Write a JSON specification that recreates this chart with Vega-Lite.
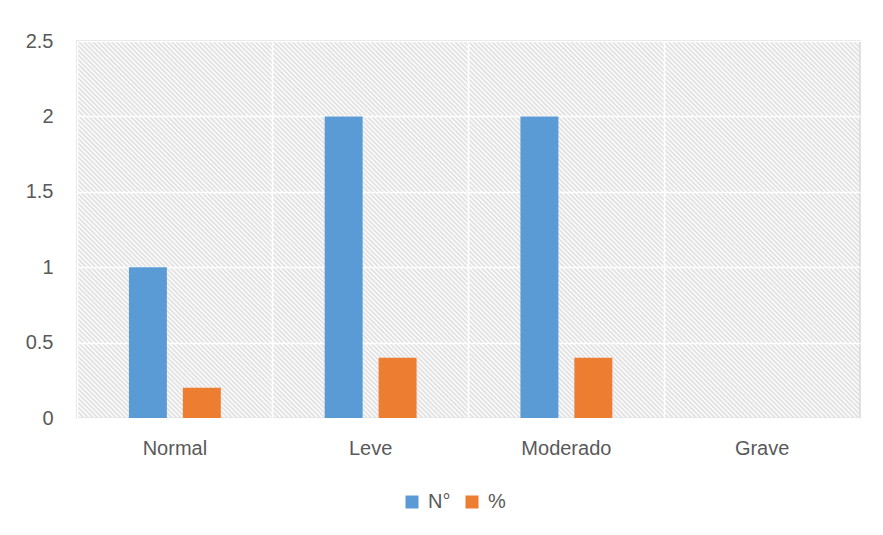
{
  "$schema": "https://vega.github.io/schema/vega-lite/v6.json",
  "width": 783,
  "height": 377,
  "autosize": "none",
  "padding": {"left": 77, "top": 41, "right": 23, "bottom": 117},
  "background": "white",
  "config": {
    "font": "Liberation Sans",
    "view": {
      "stroke": "#d9d9d9",
      "strokeWidth": 1.5,
      "fill": {
        "gradient": "linear",
        "x1": 0, "y1": 1, "x2": 1.2027, "y2": 0.4209,
        "stops": [
{"offset":0,"color":"#fff"},{"offset":0.002,"color":"#dcdcdc"},{"offset":0.004,"color":"#fff"},{"offset":0.006,"color":"#dcdcdc"},{"offset":0.008,"color":"#fff"},{"offset":0.01,"color":"#dcdcdc"},{"offset":0.012,"color":"#fff"},{"offset":0.014,"color":"#dcdcdc"},{"offset":0.016,"color":"#fff"},{"offset":0.018,"color":"#dcdcdc"},
{"offset":0.02,"color":"#fff"},{"offset":0.022,"color":"#dcdcdc"},{"offset":0.024,"color":"#fff"},{"offset":0.026,"color":"#dcdcdc"},{"offset":0.028,"color":"#fff"},{"offset":0.03,"color":"#dcdcdc"},{"offset":0.032,"color":"#fff"},{"offset":0.034,"color":"#dcdcdc"},{"offset":0.036,"color":"#fff"},{"offset":0.038,"color":"#dcdcdc"},
{"offset":0.04,"color":"#fff"},{"offset":0.042,"color":"#dcdcdc"},{"offset":0.044,"color":"#fff"},{"offset":0.046,"color":"#dcdcdc"},{"offset":0.048,"color":"#fff"},{"offset":0.05,"color":"#dcdcdc"},{"offset":0.052,"color":"#fff"},{"offset":0.054,"color":"#dcdcdc"},{"offset":0.056,"color":"#fff"},{"offset":0.058,"color":"#dcdcdc"},
{"offset":0.06,"color":"#fff"},{"offset":0.062,"color":"#dcdcdc"},{"offset":0.064,"color":"#fff"},{"offset":0.066,"color":"#dcdcdc"},{"offset":0.068,"color":"#fff"},{"offset":0.07,"color":"#dcdcdc"},{"offset":0.072,"color":"#fff"},{"offset":0.074,"color":"#dcdcdc"},{"offset":0.076,"color":"#fff"},{"offset":0.078,"color":"#dcdcdc"},
{"offset":0.08,"color":"#fff"},{"offset":0.082,"color":"#dcdcdc"},{"offset":0.084,"color":"#fff"},{"offset":0.086,"color":"#dcdcdc"},{"offset":0.088,"color":"#fff"},{"offset":0.09,"color":"#dcdcdc"},{"offset":0.092,"color":"#fff"},{"offset":0.094,"color":"#dcdcdc"},{"offset":0.096,"color":"#fff"},{"offset":0.098,"color":"#dcdcdc"},
{"offset":0.1,"color":"#fff"},{"offset":0.102,"color":"#dcdcdc"},{"offset":0.104,"color":"#fff"},{"offset":0.106,"color":"#dcdcdc"},{"offset":0.108,"color":"#fff"},{"offset":0.11,"color":"#dcdcdc"},{"offset":0.112,"color":"#fff"},{"offset":0.114,"color":"#dcdcdc"},{"offset":0.116,"color":"#fff"},{"offset":0.118,"color":"#dcdcdc"},
{"offset":0.12,"color":"#fff"},{"offset":0.122,"color":"#dcdcdc"},{"offset":0.124,"color":"#fff"},{"offset":0.126,"color":"#dcdcdc"},{"offset":0.128,"color":"#fff"},{"offset":0.13,"color":"#dcdcdc"},{"offset":0.132,"color":"#fff"},{"offset":0.134,"color":"#dcdcdc"},{"offset":0.136,"color":"#fff"},{"offset":0.138,"color":"#dcdcdc"},
{"offset":0.14,"color":"#fff"},{"offset":0.142,"color":"#dcdcdc"},{"offset":0.144,"color":"#fff"},{"offset":0.146,"color":"#dcdcdc"},{"offset":0.148,"color":"#fff"},{"offset":0.15,"color":"#dcdcdc"},{"offset":0.152,"color":"#fff"},{"offset":0.154,"color":"#dcdcdc"},{"offset":0.156,"color":"#fff"},{"offset":0.158,"color":"#dcdcdc"},
{"offset":0.16,"color":"#fff"},{"offset":0.162,"color":"#dcdcdc"},{"offset":0.164,"color":"#fff"},{"offset":0.166,"color":"#dcdcdc"},{"offset":0.168,"color":"#fff"},{"offset":0.17,"color":"#dcdcdc"},{"offset":0.172,"color":"#fff"},{"offset":0.174,"color":"#dcdcdc"},{"offset":0.176,"color":"#fff"},{"offset":0.178,"color":"#dcdcdc"},
{"offset":0.18,"color":"#fff"},{"offset":0.182,"color":"#dcdcdc"},{"offset":0.184,"color":"#fff"},{"offset":0.186,"color":"#dcdcdc"},{"offset":0.188,"color":"#fff"},{"offset":0.19,"color":"#dcdcdc"},{"offset":0.192,"color":"#fff"},{"offset":0.194,"color":"#dcdcdc"},{"offset":0.196,"color":"#fff"},{"offset":0.198,"color":"#dcdcdc"},
{"offset":0.2,"color":"#fff"},{"offset":0.202,"color":"#dcdcdc"},{"offset":0.204,"color":"#fff"},{"offset":0.206,"color":"#dcdcdc"},{"offset":0.208,"color":"#fff"},{"offset":0.21,"color":"#dcdcdc"},{"offset":0.212,"color":"#fff"},{"offset":0.214,"color":"#dcdcdc"},{"offset":0.216,"color":"#fff"},{"offset":0.218,"color":"#dcdcdc"},
{"offset":0.22,"color":"#fff"},{"offset":0.222,"color":"#dcdcdc"},{"offset":0.224,"color":"#fff"},{"offset":0.226,"color":"#dcdcdc"},{"offset":0.228,"color":"#fff"},{"offset":0.23,"color":"#dcdcdc"},{"offset":0.232,"color":"#fff"},{"offset":0.234,"color":"#dcdcdc"},{"offset":0.236,"color":"#fff"},{"offset":0.238,"color":"#dcdcdc"},
{"offset":0.24,"color":"#fff"},{"offset":0.242,"color":"#dcdcdc"},{"offset":0.244,"color":"#fff"},{"offset":0.246,"color":"#dcdcdc"},{"offset":0.248,"color":"#fff"},{"offset":0.25,"color":"#dcdcdc"},{"offset":0.252,"color":"#fff"},{"offset":0.254,"color":"#dcdcdc"},{"offset":0.256,"color":"#fff"},{"offset":0.258,"color":"#dcdcdc"},
{"offset":0.26,"color":"#fff"},{"offset":0.262,"color":"#dcdcdc"},{"offset":0.264,"color":"#fff"},{"offset":0.266,"color":"#dcdcdc"},{"offset":0.268,"color":"#fff"},{"offset":0.27,"color":"#dcdcdc"},{"offset":0.272,"color":"#fff"},{"offset":0.274,"color":"#dcdcdc"},{"offset":0.276,"color":"#fff"},{"offset":0.278,"color":"#dcdcdc"},
{"offset":0.28,"color":"#fff"},{"offset":0.282,"color":"#dcdcdc"},{"offset":0.284,"color":"#fff"},{"offset":0.286,"color":"#dcdcdc"},{"offset":0.288,"color":"#fff"},{"offset":0.29,"color":"#dcdcdc"},{"offset":0.292,"color":"#fff"},{"offset":0.294,"color":"#dcdcdc"},{"offset":0.296,"color":"#fff"},{"offset":0.298,"color":"#dcdcdc"},
{"offset":0.3,"color":"#fff"},{"offset":0.302,"color":"#dcdcdc"},{"offset":0.304,"color":"#fff"},{"offset":0.306,"color":"#dcdcdc"},{"offset":0.308,"color":"#fff"},{"offset":0.31,"color":"#dcdcdc"},{"offset":0.312,"color":"#fff"},{"offset":0.314,"color":"#dcdcdc"},{"offset":0.316,"color":"#fff"},{"offset":0.318,"color":"#dcdcdc"},
{"offset":0.32,"color":"#fff"},{"offset":0.322,"color":"#dcdcdc"},{"offset":0.324,"color":"#fff"},{"offset":0.326,"color":"#dcdcdc"},{"offset":0.328,"color":"#fff"},{"offset":0.33,"color":"#dcdcdc"},{"offset":0.332,"color":"#fff"},{"offset":0.334,"color":"#dcdcdc"},{"offset":0.336,"color":"#fff"},{"offset":0.338,"color":"#dcdcdc"},
{"offset":0.34,"color":"#fff"},{"offset":0.342,"color":"#dcdcdc"},{"offset":0.344,"color":"#fff"},{"offset":0.346,"color":"#dcdcdc"},{"offset":0.348,"color":"#fff"},{"offset":0.35,"color":"#dcdcdc"},{"offset":0.352,"color":"#fff"},{"offset":0.354,"color":"#dcdcdc"},{"offset":0.356,"color":"#fff"},{"offset":0.358,"color":"#dcdcdc"},
{"offset":0.36,"color":"#fff"},{"offset":0.362,"color":"#dcdcdc"},{"offset":0.364,"color":"#fff"},{"offset":0.366,"color":"#dcdcdc"},{"offset":0.368,"color":"#fff"},{"offset":0.37,"color":"#dcdcdc"},{"offset":0.372,"color":"#fff"},{"offset":0.374,"color":"#dcdcdc"},{"offset":0.376,"color":"#fff"},{"offset":0.378,"color":"#dcdcdc"},
{"offset":0.38,"color":"#fff"},{"offset":0.382,"color":"#dcdcdc"},{"offset":0.384,"color":"#fff"},{"offset":0.386,"color":"#dcdcdc"},{"offset":0.388,"color":"#fff"},{"offset":0.39,"color":"#dcdcdc"},{"offset":0.392,"color":"#fff"},{"offset":0.394,"color":"#dcdcdc"},{"offset":0.396,"color":"#fff"},{"offset":0.398,"color":"#dcdcdc"},
{"offset":0.4,"color":"#fff"},{"offset":0.402,"color":"#dcdcdc"},{"offset":0.404,"color":"#fff"},{"offset":0.406,"color":"#dcdcdc"},{"offset":0.408,"color":"#fff"},{"offset":0.41,"color":"#dcdcdc"},{"offset":0.412,"color":"#fff"},{"offset":0.414,"color":"#dcdcdc"},{"offset":0.416,"color":"#fff"},{"offset":0.418,"color":"#dcdcdc"},
{"offset":0.42,"color":"#fff"},{"offset":0.422,"color":"#dcdcdc"},{"offset":0.424,"color":"#fff"},{"offset":0.426,"color":"#dcdcdc"},{"offset":0.428,"color":"#fff"},{"offset":0.43,"color":"#dcdcdc"},{"offset":0.432,"color":"#fff"},{"offset":0.434,"color":"#dcdcdc"},{"offset":0.436,"color":"#fff"},{"offset":0.438,"color":"#dcdcdc"},
{"offset":0.44,"color":"#fff"},{"offset":0.442,"color":"#dcdcdc"},{"offset":0.444,"color":"#fff"},{"offset":0.446,"color":"#dcdcdc"},{"offset":0.448,"color":"#fff"},{"offset":0.45,"color":"#dcdcdc"},{"offset":0.452,"color":"#fff"},{"offset":0.454,"color":"#dcdcdc"},{"offset":0.456,"color":"#fff"},{"offset":0.458,"color":"#dcdcdc"},
{"offset":0.46,"color":"#fff"},{"offset":0.462,"color":"#dcdcdc"},{"offset":0.464,"color":"#fff"},{"offset":0.466,"color":"#dcdcdc"},{"offset":0.468,"color":"#fff"},{"offset":0.47,"color":"#dcdcdc"},{"offset":0.472,"color":"#fff"},{"offset":0.474,"color":"#dcdcdc"},{"offset":0.476,"color":"#fff"},{"offset":0.478,"color":"#dcdcdc"},
{"offset":0.48,"color":"#fff"},{"offset":0.482,"color":"#dcdcdc"},{"offset":0.484,"color":"#fff"},{"offset":0.486,"color":"#dcdcdc"},{"offset":0.488,"color":"#fff"},{"offset":0.49,"color":"#dcdcdc"},{"offset":0.492,"color":"#fff"},{"offset":0.494,"color":"#dcdcdc"},{"offset":0.496,"color":"#fff"},{"offset":0.498,"color":"#dcdcdc"},
{"offset":0.5,"color":"#fff"},{"offset":0.502,"color":"#dcdcdc"},{"offset":0.504,"color":"#fff"},{"offset":0.506,"color":"#dcdcdc"},{"offset":0.508,"color":"#fff"},{"offset":0.51,"color":"#dcdcdc"},{"offset":0.512,"color":"#fff"},{"offset":0.514,"color":"#dcdcdc"},{"offset":0.516,"color":"#fff"},{"offset":0.518,"color":"#dcdcdc"},
{"offset":0.52,"color":"#fff"},{"offset":0.522,"color":"#dcdcdc"},{"offset":0.524,"color":"#fff"},{"offset":0.526,"color":"#dcdcdc"},{"offset":0.528,"color":"#fff"},{"offset":0.53,"color":"#dcdcdc"},{"offset":0.532,"color":"#fff"},{"offset":0.534,"color":"#dcdcdc"},{"offset":0.536,"color":"#fff"},{"offset":0.538,"color":"#dcdcdc"},
{"offset":0.54,"color":"#fff"},{"offset":0.542,"color":"#dcdcdc"},{"offset":0.544,"color":"#fff"},{"offset":0.546,"color":"#dcdcdc"},{"offset":0.548,"color":"#fff"},{"offset":0.55,"color":"#dcdcdc"},{"offset":0.552,"color":"#fff"},{"offset":0.554,"color":"#dcdcdc"},{"offset":0.556,"color":"#fff"},{"offset":0.558,"color":"#dcdcdc"},
{"offset":0.56,"color":"#fff"},{"offset":0.562,"color":"#dcdcdc"},{"offset":0.564,"color":"#fff"},{"offset":0.566,"color":"#dcdcdc"},{"offset":0.568,"color":"#fff"},{"offset":0.57,"color":"#dcdcdc"},{"offset":0.572,"color":"#fff"},{"offset":0.574,"color":"#dcdcdc"},{"offset":0.576,"color":"#fff"},{"offset":0.578,"color":"#dcdcdc"},
{"offset":0.58,"color":"#fff"},{"offset":0.582,"color":"#dcdcdc"},{"offset":0.584,"color":"#fff"},{"offset":0.586,"color":"#dcdcdc"},{"offset":0.588,"color":"#fff"},{"offset":0.59,"color":"#dcdcdc"},{"offset":0.592,"color":"#fff"},{"offset":0.594,"color":"#dcdcdc"},{"offset":0.596,"color":"#fff"},{"offset":0.598,"color":"#dcdcdc"},
{"offset":0.6,"color":"#fff"},{"offset":0.602,"color":"#dcdcdc"},{"offset":0.604,"color":"#fff"},{"offset":0.606,"color":"#dcdcdc"},{"offset":0.608,"color":"#fff"},{"offset":0.61,"color":"#dcdcdc"},{"offset":0.612,"color":"#fff"},{"offset":0.614,"color":"#dcdcdc"},{"offset":0.616,"color":"#fff"},{"offset":0.618,"color":"#dcdcdc"},
{"offset":0.62,"color":"#fff"},{"offset":0.622,"color":"#dcdcdc"},{"offset":0.624,"color":"#fff"},{"offset":0.626,"color":"#dcdcdc"},{"offset":0.628,"color":"#fff"},{"offset":0.63,"color":"#dcdcdc"},{"offset":0.632,"color":"#fff"},{"offset":0.634,"color":"#dcdcdc"},{"offset":0.636,"color":"#fff"},{"offset":0.638,"color":"#dcdcdc"},
{"offset":0.64,"color":"#fff"},{"offset":0.642,"color":"#dcdcdc"},{"offset":0.644,"color":"#fff"},{"offset":0.646,"color":"#dcdcdc"},{"offset":0.648,"color":"#fff"},{"offset":0.65,"color":"#dcdcdc"},{"offset":0.652,"color":"#fff"},{"offset":0.654,"color":"#dcdcdc"},{"offset":0.656,"color":"#fff"},{"offset":0.658,"color":"#dcdcdc"},
{"offset":0.66,"color":"#fff"},{"offset":0.662,"color":"#dcdcdc"},{"offset":0.664,"color":"#fff"},{"offset":0.666,"color":"#dcdcdc"},{"offset":0.668,"color":"#fff"},{"offset":0.67,"color":"#dcdcdc"},{"offset":0.672,"color":"#fff"},{"offset":0.674,"color":"#dcdcdc"},{"offset":0.676,"color":"#fff"},{"offset":0.678,"color":"#dcdcdc"},
{"offset":0.68,"color":"#fff"},{"offset":0.682,"color":"#dcdcdc"},{"offset":0.684,"color":"#fff"},{"offset":0.686,"color":"#dcdcdc"},{"offset":0.688,"color":"#fff"},{"offset":0.69,"color":"#dcdcdc"},{"offset":0.692,"color":"#fff"},{"offset":0.694,"color":"#dcdcdc"},{"offset":0.696,"color":"#fff"},{"offset":0.698,"color":"#dcdcdc"},
{"offset":0.7,"color":"#fff"},{"offset":0.702,"color":"#dcdcdc"},{"offset":0.704,"color":"#fff"},{"offset":0.706,"color":"#dcdcdc"},{"offset":0.708,"color":"#fff"},{"offset":0.71,"color":"#dcdcdc"},{"offset":0.712,"color":"#fff"},{"offset":0.714,"color":"#dcdcdc"},{"offset":0.716,"color":"#fff"},{"offset":0.718,"color":"#dcdcdc"},
{"offset":0.72,"color":"#fff"},{"offset":0.722,"color":"#dcdcdc"},{"offset":0.724,"color":"#fff"},{"offset":0.726,"color":"#dcdcdc"},{"offset":0.728,"color":"#fff"},{"offset":0.73,"color":"#dcdcdc"},{"offset":0.732,"color":"#fff"},{"offset":0.734,"color":"#dcdcdc"},{"offset":0.736,"color":"#fff"},{"offset":0.738,"color":"#dcdcdc"},
{"offset":0.74,"color":"#fff"},{"offset":0.742,"color":"#dcdcdc"},{"offset":0.744,"color":"#fff"},{"offset":0.746,"color":"#dcdcdc"},{"offset":0.748,"color":"#fff"},{"offset":0.75,"color":"#dcdcdc"},{"offset":0.752,"color":"#fff"},{"offset":0.754,"color":"#dcdcdc"},{"offset":0.756,"color":"#fff"},{"offset":0.758,"color":"#dcdcdc"},
{"offset":0.76,"color":"#fff"},{"offset":0.762,"color":"#dcdcdc"},{"offset":0.764,"color":"#fff"},{"offset":0.766,"color":"#dcdcdc"},{"offset":0.768,"color":"#fff"},{"offset":0.77,"color":"#dcdcdc"},{"offset":0.772,"color":"#fff"},{"offset":0.774,"color":"#dcdcdc"},{"offset":0.776,"color":"#fff"},{"offset":0.778,"color":"#dcdcdc"},
{"offset":0.78,"color":"#fff"},{"offset":0.782,"color":"#dcdcdc"},{"offset":0.784,"color":"#fff"},{"offset":0.786,"color":"#dcdcdc"},{"offset":0.788,"color":"#fff"},{"offset":0.79,"color":"#dcdcdc"},{"offset":0.792,"color":"#fff"},{"offset":0.794,"color":"#dcdcdc"},{"offset":0.796,"color":"#fff"},{"offset":0.798,"color":"#dcdcdc"},
{"offset":0.8,"color":"#fff"},{"offset":0.802,"color":"#dcdcdc"},{"offset":0.804,"color":"#fff"},{"offset":0.806,"color":"#dcdcdc"},{"offset":0.808,"color":"#fff"},{"offset":0.81,"color":"#dcdcdc"},{"offset":0.812,"color":"#fff"},{"offset":0.814,"color":"#dcdcdc"},{"offset":0.816,"color":"#fff"},{"offset":0.818,"color":"#dcdcdc"},
{"offset":0.82,"color":"#fff"},{"offset":0.822,"color":"#dcdcdc"},{"offset":0.824,"color":"#fff"},{"offset":0.826,"color":"#dcdcdc"},{"offset":0.828,"color":"#fff"},{"offset":0.83,"color":"#dcdcdc"},{"offset":0.832,"color":"#fff"},{"offset":0.834,"color":"#dcdcdc"},{"offset":0.836,"color":"#fff"},{"offset":0.838,"color":"#dcdcdc"},
{"offset":0.84,"color":"#fff"},{"offset":0.842,"color":"#dcdcdc"},{"offset":0.844,"color":"#fff"},{"offset":0.846,"color":"#dcdcdc"},{"offset":0.848,"color":"#fff"},{"offset":0.85,"color":"#dcdcdc"},{"offset":0.852,"color":"#fff"},{"offset":0.854,"color":"#dcdcdc"},{"offset":0.856,"color":"#fff"},{"offset":0.858,"color":"#dcdcdc"},
{"offset":0.86,"color":"#fff"},{"offset":0.862,"color":"#dcdcdc"},{"offset":0.864,"color":"#fff"},{"offset":0.866,"color":"#dcdcdc"},{"offset":0.868,"color":"#fff"},{"offset":0.87,"color":"#dcdcdc"},{"offset":0.872,"color":"#fff"},{"offset":0.874,"color":"#dcdcdc"},{"offset":0.876,"color":"#fff"},{"offset":0.878,"color":"#dcdcdc"},
{"offset":0.88,"color":"#fff"},{"offset":0.882,"color":"#dcdcdc"},{"offset":0.884,"color":"#fff"},{"offset":0.886,"color":"#dcdcdc"},{"offset":0.888,"color":"#fff"},{"offset":0.89,"color":"#dcdcdc"},{"offset":0.892,"color":"#fff"},{"offset":0.894,"color":"#dcdcdc"},{"offset":0.896,"color":"#fff"},{"offset":0.898,"color":"#dcdcdc"},
{"offset":0.9,"color":"#fff"},{"offset":0.902,"color":"#dcdcdc"},{"offset":0.904,"color":"#fff"},{"offset":0.906,"color":"#dcdcdc"},{"offset":0.908,"color":"#fff"},{"offset":0.91,"color":"#dcdcdc"},{"offset":0.912,"color":"#fff"},{"offset":0.914,"color":"#dcdcdc"},{"offset":0.916,"color":"#fff"},{"offset":0.918,"color":"#dcdcdc"},
{"offset":0.92,"color":"#fff"},{"offset":0.922,"color":"#dcdcdc"},{"offset":0.924,"color":"#fff"},{"offset":0.926,"color":"#dcdcdc"},{"offset":0.928,"color":"#fff"},{"offset":0.93,"color":"#dcdcdc"},{"offset":0.932,"color":"#fff"},{"offset":0.934,"color":"#dcdcdc"},{"offset":0.936,"color":"#fff"},{"offset":0.938,"color":"#dcdcdc"},
{"offset":0.94,"color":"#fff"},{"offset":0.942,"color":"#dcdcdc"},{"offset":0.944,"color":"#fff"},{"offset":0.946,"color":"#dcdcdc"},{"offset":0.948,"color":"#fff"},{"offset":0.95,"color":"#dcdcdc"},{"offset":0.952,"color":"#fff"},{"offset":0.954,"color":"#dcdcdc"},{"offset":0.956,"color":"#fff"},{"offset":0.958,"color":"#dcdcdc"},
{"offset":0.96,"color":"#fff"},{"offset":0.962,"color":"#dcdcdc"},{"offset":0.964,"color":"#fff"},{"offset":0.966,"color":"#dcdcdc"},{"offset":0.968,"color":"#fff"},{"offset":0.97,"color":"#dcdcdc"},{"offset":0.972,"color":"#fff"},{"offset":0.974,"color":"#dcdcdc"},{"offset":0.976,"color":"#fff"},{"offset":0.978,"color":"#dcdcdc"},
{"offset":0.98,"color":"#fff"},{"offset":0.982,"color":"#dcdcdc"},{"offset":0.984,"color":"#fff"},{"offset":0.986,"color":"#dcdcdc"},{"offset":0.988,"color":"#fff"},{"offset":0.99,"color":"#dcdcdc"},{"offset":0.992,"color":"#fff"},{"offset":0.994,"color":"#dcdcdc"},{"offset":0.996,"color":"#fff"},{"offset":0.998,"color":"#dcdcdc"},
{"offset":1,"color":"#fff"}
        ]
      }
    }
  },
  "data": {
    "values": [
      {"categoria": "Normal", "serie": "N°", "valor": 1},
      {"categoria": "Normal", "serie": "%", "valor": 0.2},
      {"categoria": "Leve", "serie": "N°", "valor": 2},
      {"categoria": "Leve", "serie": "%", "valor": 0.4},
      {"categoria": "Moderado", "serie": "N°", "valor": 2},
      {"categoria": "Moderado", "serie": "%", "valor": 0.4},
      {"categoria": "Grave", "serie": "N°", "valor": 0},
      {"categoria": "Grave", "serie": "%", "valor": 0}
    ]
  },
  "mark": {"type": "bar"},
  "encoding": {
    "x": {
      "field": "categoria",
      "type": "nominal",
      "sort": ["Normal", "Leve", "Moderado", "Grave"],
      "scale": {"paddingInner": 0, "paddingOuter": 0},
      "axis": {
        "title": null,
        "labelAngle": 0,
        "labelFontSize": 20,
        "labelColor": "#595959",
        "labelPadding": 20,
        "ticks": false,
        "domain": false,
        "grid": true,
        "bandPosition": 0,
        "gridColor": "#ffffff",
        "gridWidth": 1.5
      }
    },
    "xOffset": {
      "field": "serie",
      "sort": ["N°", "%"],
      "scale": {"paddingInner": 0.296, "paddingOuter": 0.963}
    },
    "y": {
      "field": "valor",
      "type": "quantitative",
      "scale": {"domain": [0, 2.5]},
      "axis": {
        "title": null,
        "values": [0, 0.5, 1, 1.5, 2, 2.5],
        "format": "~g",
        "labelFontSize": 20,
        "labelColor": "#595959",
        "labelPadding": 24,
        "ticks": false,
        "domain": false,
        "grid": true,
        "gridColor": "#ffffff",
        "gridWidth": 1.5
      }
    },
    "color": {
      "field": "serie",
      "type": "nominal",
      "sort": ["N°", "%"],
      "scale": {"range": ["#5B9BD5", "#ED7D31"]},
      "legend": {
        "title": null,
        "orient": "none",
        "legendX": 325,
        "legendY": 451,
        "direction": "horizontal",
        "padding": 0,
        "symbolType": "square",
        "symbolSize": 169,
        "symbolStrokeWidth": 0,
        "labelFontSize": 20,
        "labelColor": "#595959",
        "labelOffset": 6,
        "columnPadding": 11
      }
    }
  }
}
